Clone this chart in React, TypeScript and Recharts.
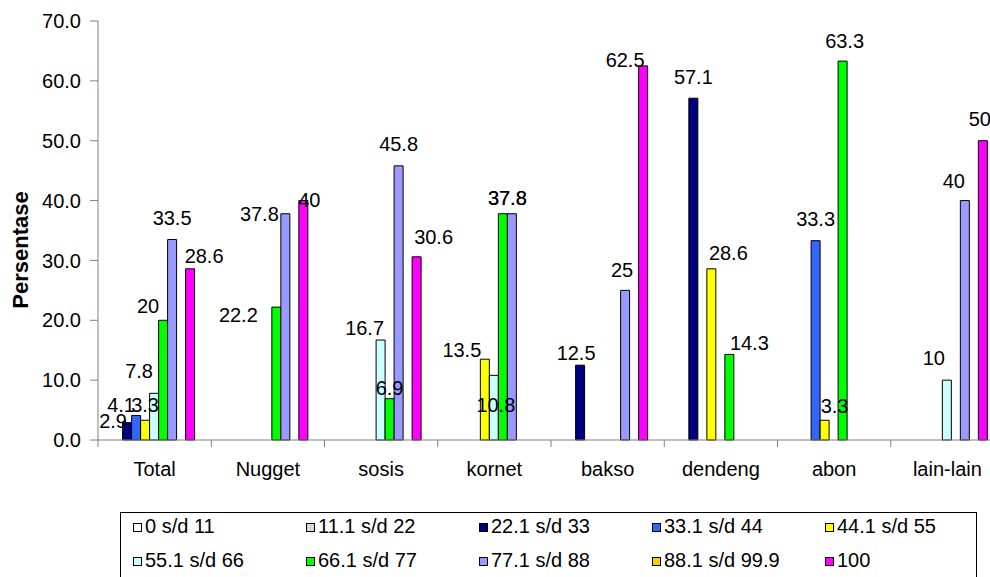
import { BarChart, Bar, XAxis, YAxis, LabelList } from "recharts"

const categories = ["Total", "Nugget", "sosis", "kornet", "bakso", "dendeng", "abon", "lain-lain"]

const seriesNames = [
  "0 s/d 11",
  "11.1 s/d 22",
  "22.1 s/d 33",
  "33.1 s/d 44",
  "44.1 s/d 55",
  "55.1 s/d 66",
  "66.1 s/d 77",
  "77.1 s/d 88",
  "88.1 s/d 99.9",
  "100",
]

const seriesColors = [
  "#FFFFFF",
  "#D9D9D9",
  "#000080",
  "#3366FF",
  "#FFFF00",
  "#CCFFFF",
  "#00FF00",
  "#9999FF",
  "#FFCC00",
  "#FF00FF",
]

// values per series, in category order (null = no bar)
const range0to11 = [null, null, null, null, null, null, null, null]
const range11to22 = [null, null, null, null, null, null, null, null]
const range22to33 = [2.9, null, null, null, 12.5, 57.1, null, null]
const range33to44 = [4.1, null, null, null, null, null, 33.3, null]
const range44to55 = [3.3, null, null, 13.5, null, 28.6, 3.3, null]
const range55to66 = [7.8, null, 16.7, 10.8, null, null, null, 10]
const range66to77 = [20, 22.2, 6.9, 37.8, null, 14.3, 63.3, null]
const range77to88 = [33.5, 37.8, 45.8, 37.8, 25, null, null, 40]
const range88to99 = [null, null, null, null, null, null, null, null]
const range100 = [28.6, 40, 30.6, null, 62.5, null, null, 50]

const seriesValues = [
  range0to11, range11to22, range22to33, range33to44, range44to55,
  range55to66, range66to77, range77to88, range88to99, range100,
]

const yTicks = [0, 10, 20, 30, 40, 50, 60, 70]

const data = categories.map((name, i) => {
  const row: Record<string, any> = { name }
  seriesValues.forEach((vals, s) => {
    row["s" + s] = vals[i]
  })
  return row
})

// data labels were dragged by hand in the original; "series-category" -> [dx, dy]
const labelNudge: Record<string, [number, number]> = {
  "2-0": [-14, 14], "3-0": [-15, 6], "4-0": [0, 1], "5-0": [-15, -6], "6-0": [-15, 2], "7-0": [0, -5], "9-0": [14, 3],
  "6-1": [-38, 24], "7-1": [-26, 16], "9-1": [6, 15],
  "5-2": [-16, 4], "6-2": [0, 5], "7-2": [0, -6], "9-2": [17, -4],
  "4-3": [-23, 7], "5-3": [2, 46], "6-3": [4.5, 0], "7-3": [-4.5, 0],
  "2-4": [-4, 4], "7-4": [-3, -4], "9-4": [-18, 10],
  "2-5": [0, -5], "4-5": [17, 0], "6-5": [20, 5],
  "3-6": [0, -6], "4-6": [10, 2], "6-6": [2, -4],
  "5-7": [-13, -6], "7-7": [-11, -4], "9-7": [-3, -6],
}

const PLOT_LEFT = 98
const PLOT_W = 906
const BAND = PLOT_W / categories.length
const FONT = "'Liberation Sans', Arial, sans-serif"

function CategoryTick(props: any) {
  const { x, y, payload, index } = props
  return (
    <g>
      <line x1={x - BAND / 2} x2={x - BAND / 2} y1={y} y2={y + 7} stroke="#808080" />
      {index === categories.length - 1 && (
        <line x1={x + BAND / 2} x2={x + BAND / 2} y1={y} y2={y + 7} stroke="#808080" />
      )}
      <text x={x} y={y + 36} textAnchor="middle" fontSize={20} fill="#000">
        {payload.value}
      </text>
    </g>
  )
}

const valueLabel = (s: number) => (p: any) => {
  if (p.value == null) return null
  const vb = p.viewBox && p.viewBox.width != null ? p.viewBox : p
  // LabelList skips empty entries, so find the category from the bar's position
  const cat = Math.floor((vb.x - PLOT_LEFT) / BAND)
  const [dx, dy] = labelNudge[s + "-" + cat] || [0, 0]
  return (
    <text
      key={"lbl-" + s + "-" + cat}
      x={vb.x + vb.width / 2 + dx}
      y={vb.y - 9 + dy}
      textAnchor="middle"
      fontSize={20}
      fill="#000"
    >
      {p.value}
    </text>
  )
}

function Legend() {
  return (
    <svg width={990} height={577} style={{ position: "absolute", left: 0, top: 0 }}>
      <rect x={120.5} y={512.5} width={856} height={80} fill="none" stroke="#000" />
      {seriesNames.map((name, i) => {
        const col = i % 5
        const row = Math.floor(i / 5)
        const x = 133 + col * 173
        const base = 533 + row * 34
        return (
          <g key={name}>
            <rect x={x + 0.5} y={base - 9.5} width={8} height={8} fill={seriesColors[i]} stroke="#000" />
            <text x={x + 12} y={base} fontSize={20} fill="#000" fontFamily={FONT}>
              {name}
            </text>
          </g>
        )
      })}
    </svg>
  )
}

export default function App() {
  return (
    <div
      style={{
        position: "absolute",
        left: 0,
        top: 0,
        width: 990,
        height: 577,
        overflow: "hidden",
        background: "#fff",
        fontFamily: FONT,
      }}
    >
      <BarChart
        width={PLOT_LEFT + PLOT_W + 2}
        height={577}
        data={data}
        margin={{ top: 21, right: 2, left: 0, bottom: 97 }}
        barGap={0}
        barCategoryGap={6.6}
      >
        <XAxis
          dataKey="name"
          height={40}
          interval={0}
          tickSize={0}
          tickMargin={0}
          tickLine={false}
          axisLine={{ stroke: "#808080" }}
          tick={<CategoryTick />}
        />
        <YAxis
          domain={[0, 70]}
          ticks={yTicks}
          interval={0}
          width={PLOT_LEFT}
          tickSize={8}
          tickMargin={9}
          tickFormatter={(v: number) => v.toFixed(1)}
          axisLine={{ stroke: "#808080" }}
          tickLine={{ stroke: "#808080" }}
          tick={{ fontSize: 20, fill: "#000" }}
        />
        {seriesNames.map((name, i) => (
          <Bar
            key={name}
            dataKey={"s" + i}
            name={name}
            fill={seriesColors[i]}
            stroke="#000"
            strokeWidth={1}
            isAnimationActive={false}
          >
            <LabelList dataKey={"s" + i} content={valueLabel(i)} />
          </Bar>
        ))}
        {/* empty 11th slot, as in the source spreadsheet chart */}
        <Bar dataKey="spacer" legendType="none" isAnimationActive={false} />
      </BarChart>
      <svg width={60} height={577} style={{ position: "absolute", left: 0, top: 0 }}>
        <text
          x={28}
          y={250}
          transform="rotate(-90 28 250)"
          textAnchor="middle"
          fontSize={22}
          fontWeight="bold"
          fill="#000"
          fontFamily={FONT}
        >
          Persentase
        </text>
      </svg>
      <Legend />
    </div>
  )
}
